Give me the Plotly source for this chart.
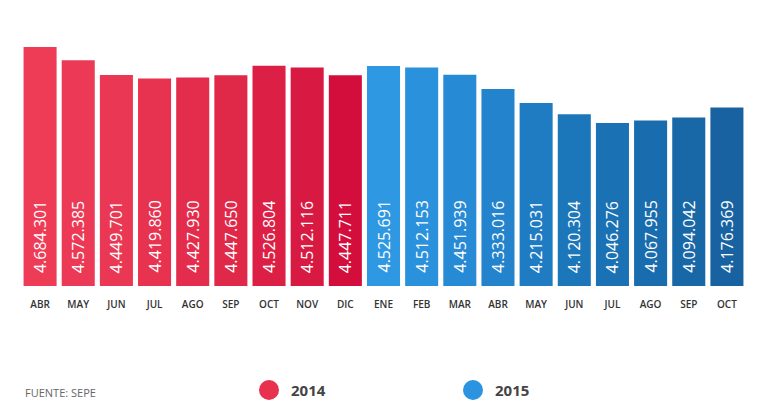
import plotly.graph_objects as go

months = ["ABR", "MAY", "JUN", "JUL", "AGO", "SEP", "OCT", "NOV", "DIC",
          "ENE", "FEB", "MAR", "ABR", "MAY", "JUN", "JUL", "AGO", "SEP", "OCT"]
values = [4684301, 4572385, 4449701, 4419860, 4427930, 4447650, 4526804, 4512116, 4447711,
          4525691, 4512153, 4451939, 4333016, 4215031, 4120304, 4046276, 4067955, 4094042, 4176369]
years = ["2014"] * 9 + ["2015"] * 10
source_text = "FUENTE: SEPE"

red_colors = ["#EE3C57", "#EC3A56", "#EA3753", "#E73350", "#E42D4C",
              "#E02849", "#DC2045", "#D81941", "#D30E3C"]
blue_colors = ["#2E98E3", "#2A91DC", "#278AD5", "#2383CC", "#1F7CC3",
               "#1C76BA", "#1A71B3", "#196CAD", "#1867A7", "#1862A1"]
legend_colors = {"2014": "#E8304F", "2015": "#2B93E0"}

colors = red_colors + blue_colors
xs = list(range(len(months)))
y_min, y_max = 2680000, 4910800


def fmt(v):
    return f"{v:,}".replace(",", ".")


fig = go.Figure()
fig.add_trace(go.Bar(
    x=xs, y=values,
    marker=dict(color=colors, line=dict(width=0)),
    showlegend=False, hoverinfo="skip",
))

annotations = []
for x, v in zip(xs, values):
    annotations.append(dict(
        x=x, y=y_min, xref="x", yref="y", text=fmt(v), textangle=-90,
        showarrow=False, xanchor="center", yanchor="bottom", yshift=11,
        font=dict(family="Open Sans", size=16, color="white"),
    ))

L, R, T, B = 21, 24, 20, 131
W, H = 770, 417
pw, ph = W - L - R, H - T - B


def px_x(p):
    return (p - L) / pw


def px_y(p):
    return (H - B - p) / ph


shapes = []
legend_pos = {"2014": (269, 289), "2015": (473, 493)}
for yr in ["2014", "2015"]:
    cx, tx = legend_pos[yr]
    shapes.append(dict(
        type="circle", xref="paper", yref="paper",
        xsizemode="pixel", ysizemode="pixel",
        xanchor=px_x(cx), yanchor=px_y(390),
        x0=-10, x1=10, y0=-10, y1=10,
        fillcolor=legend_colors[yr], line=dict(width=0),
    ))
    annotations.append(dict(
        x=px_x(tx), y=px_y(390), xref="paper", yref="paper", text=yr,
        showarrow=False, xanchor="left", yanchor="middle",
        font=dict(family="Open Sans", size=15, color="#444444", weight="bold"),
    ))

annotations.append(dict(
    x=px_x(23), y=px_y(392), xref="paper", yref="paper", text=source_text,
    showarrow=False, xanchor="left", yanchor="middle",
    font=dict(family="Open Sans", size=11, color="#666666"),
))

fig.update_layout(
    width=W, height=H,
    margin=dict(l=L, r=R, t=T, b=B),
    paper_bgcolor="white", plot_bgcolor="white",
    bargap=0.134,
    xaxis=dict(
        tickmode="array", tickvals=xs, ticktext=months,
        range=[-0.5, len(months) - 0.5],
        showgrid=False, zeroline=False, showline=False,
        ticks="", ticklabelstandoff=11,
        tickfont=dict(family="Open Sans", size=10, color="#333333", weight=600),
    ),
    yaxis=dict(range=[y_min, y_max], visible=False, showgrid=False, zeroline=False),
    annotations=annotations,
    shapes=shapes,
)

fig.write_html("out.html", config={"displayModeBar": False},
               post_script="document.body.style.margin='0';")
